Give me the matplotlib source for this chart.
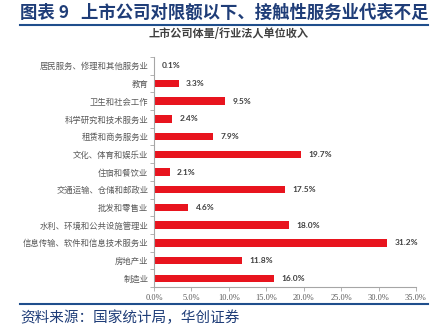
import matplotlib
matplotlib.use("Agg")
import matplotlib.pyplot as plt
from matplotlib.lines import Line2D

plt.rcParams['font.family'] = ['Noto Sans CJK SC', 'DejaVu Sans']

categories = ["居民服务、修理和其他服务业", "教育", "卫生和社会工作", "科学研究和技术服务业",
              "租赁和商务服务业", "文化、体育和娱乐业", "住宿和餐饮业", "交通运输、仓储和邮政业",
              "批发和零售业", "水利、环境和公共设施管理业", "信息传输、软件和信息技术服务业",
              "房地产业", "制造业"]
values = [0.1, 3.3, 9.5, 2.4, 7.9, 19.7, 2.1, 17.5, 4.6, 18.0, 31.2, 11.8, 16.0]
xticks = [0, 5, 10, 15, 20, 25, 30, 35]
xticklabels = ["0.0%", "5.0%", "10.0%", "15.0%", "20.0%", "25.0%", "30.0%", "35.0%"]

title = "图表 9   上市公司对限额以下、接触性服务业代表不足"
subtitle = "上市公司体量/行业法人单位收入"
source = "资料来源：国家统计局，华创证券"

fig = plt.figure(figsize=(4.36, 3.35), dpi=100)
ax = fig.add_axes([0.353, 0.143, 0.601, 0.687])

n = len(categories)
ypos = list(range(n))[::-1]
ax.barh(ypos, values, height=0.42, color="#E8141E")
for y, v in zip(ypos, values):
    ax.text(v + 1.0, y, f"{v:.1f}%", va="center", ha="left", fontsize=6,
            fontweight="bold", color="#404040", family=["Lato", "DejaVu Sans"])

ax.set_xlim(0, 35)
ax.set_ylim(-0.5, n - 0.5)
ax.set_xticks(xticks)
ax.set_xticklabels(xticklabels, family=["Liberation Serif"], fontsize=6, color="#595959")
ax.set_yticks(ypos)
ax.set_yticklabels(categories, fontsize=6, color="#595959")
ax.set_yticks([i - 0.5 for i in range(n + 1)], minor=True)
ax.tick_params(axis="y", which="major", length=0, pad=4)
ax.tick_params(axis="y", which="minor", length=3, color="#A6A6A6", width=0.6)
ax.tick_params(axis="x", length=3, color="#A6A6A6", width=0.6, pad=2)
for s in ["top", "right"]:
    ax.spines[s].set_visible(False)
for s in ["left", "bottom"]:
    ax.spines[s].set_color("#A6A6A6")
    ax.spines[s].set_linewidth(0.8)

fig.text(0.046, 0.963, title, fontsize=12.5, fontweight="bold", color="#1F3D78",
         va="center", ha="left")
fig.add_artist(Line2D([0.046, 0.982], [0.925, 0.925], color="#1F4E8C", lw=1.5,
                      transform=fig.transFigure))
fig.text(0.523, 0.901, subtitle, fontsize=8, fontweight="bold", color="#404040",
         va="center", ha="center")
fig.add_artist(Line2D([0.046, 0.982], [0.093, 0.093], color="#1F4E8C", lw=1.5,
                      transform=fig.transFigure))
fig.text(0.046, 0.05, source, fontsize=10.5, color="#1F3D78", va="center", ha="left",
         style="italic")

fig.savefig("out.png", dpi=100)
